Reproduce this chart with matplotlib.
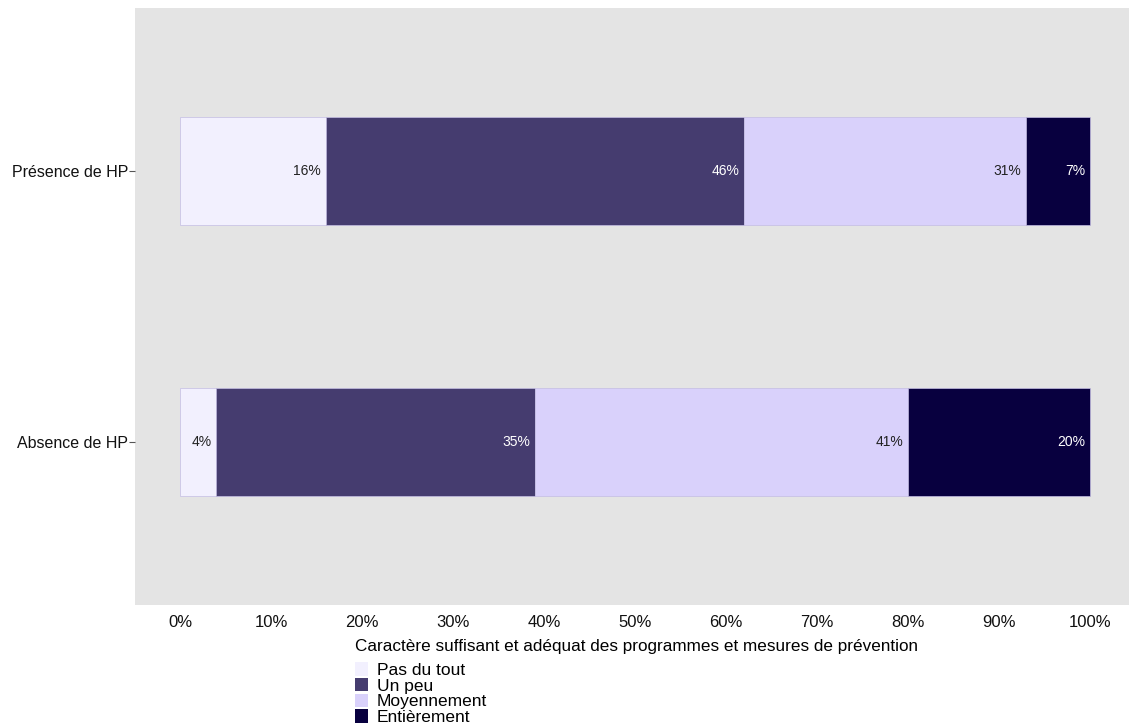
import numpy as np
import matplotlib.pyplot as plt
from matplotlib.patches import Patch

plt.rcParams['font.family'] = ['Liberation Sans', 'DejaVu Sans']

groupes = ["Présence de HP", "Absence de HP"]
niveaux = ["Pas du tout", "Un peu", "Moyennement", "Entièrement"]
valeurs = {
    "Pas du tout": [16, 4],
    "Un peu": [46, 35],
    "Moyennement": [31, 41],
    "Entièrement": [7, 20],
}
couleurs = ["#F2F0FE", "#453C6F", "#D9D1FB", "#08003F"]
couleurs_texte = ["#222222", "#FFFFFF", "#222222", "#FFFFFF"]
graduations = np.arange(0, 101, 10)

fig = plt.figure(figsize=(11.29, 7.25), dpi=100)
ax = fig.add_axes([135 / 1129, 1 - 605 / 725, 1 - 135 / 1129, 597 / 725])
ax.set_facecolor("#E4E4E4")

ypos = np.array([2, 1])
gauche = np.zeros(len(groupes))
for niv, coul, ct in zip(niveaux, couleurs, couleurs_texte):
    v = np.array(valeurs[niv], dtype=float)
    ax.barh(ypos, v, left=gauche, height=0.4, color=coul,
            edgecolor="#C4BDE3", linewidth=0.5, label=niv)
    for y, g, w in zip(ypos, gauche, v):
        ax.text(g + w - 0.55, y, f"{int(w)}%", ha="right", va="center",
                fontsize=10, color=ct)
    gauche += v

ax.set_xlim(-4.95, (1129 - 180) / 9.1)
ax.set_ylim(0.4, 2.6)
ax.set_yticks(ypos)
ax.set_yticklabels(groupes, fontsize=11.5, color="#111111")
ax.set_xticks(graduations)
ax.set_xticklabels([f"{t}%" for t in graduations], fontsize=12, color="#111111")
ax.tick_params(axis="y", length=4, color="#555555", pad=1)
ax.tick_params(axis="x", length=0, pad=7)
for s in ax.spines.values():
    s.set_visible(False)

handles = [Patch(facecolor=c, edgecolor="none") for c in couleurs]
leg = fig.legend(handles, niveaux, loc="upper left",
                 bbox_to_anchor=(355 / 1129, 1 - 639 / 725),
                 title="Caractère suffisant et adéquat des programmes et mesures de prévention",
                 frameon=False, fontsize=12.5, title_fontsize=12.3,
                 labelspacing=0.0, handlelength=0.75, handleheight=0.8,
                 handletextpad=0.5, borderaxespad=0, borderpad=0)
leg._legend_box.align = "left"
leg._legend_box.sep = 6

fig.savefig("out.png", dpi=100)
